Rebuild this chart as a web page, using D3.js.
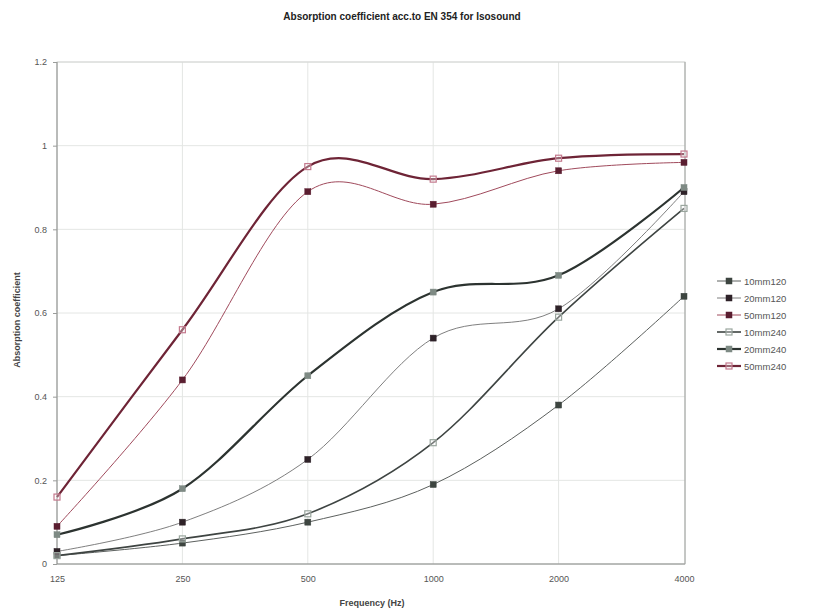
<!DOCTYPE html>
<html>
<head>
<meta charset="utf-8">
<script src="https://cdn.jsdelivr.net/npm/d3@7"></script>
<style>
  body { margin: 0; background: #fff; }
  text { font-family: "Liberation Sans", Arial, sans-serif; }
</style>
</head>
<body>
<div id="viz"></div>
<script>
// chart data
var frequencies = ['125', '250', '500', '1000', '2000', '4000'];
var yTicks = [0, 0.2, 0.4, 0.6, 0.8, 1, 1.2];
var seriesNames = ['10mm120', '20mm120', '50mm120', '10mm240', '20mm240', '50mm240'];
var v10mm120 = [0.02, 0.05, 0.10, 0.19, 0.38, 0.64];
var v20mm120 = [0.03, 0.10, 0.25, 0.54, 0.61, 0.89];
var v50mm120 = [0.09, 0.44, 0.89, 0.86, 0.94, 0.96];
var v10mm240 = [0.02, 0.06, 0.12, 0.29, 0.59, 0.85];
var v20mm240 = [0.07, 0.18, 0.45, 0.65, 0.69, 0.90];
var v50mm240 = [0.16, 0.56, 0.95, 0.92, 0.97, 0.98];

// styles per series
var styles = [
  {line: '#5c605e', width: 1,   mark: '#3d4540', open: false},
  {line: '#707070', width: 0.9, mark: '#2e2228', open: false},
  {line: '#a04a5c', width: 1,   mark: '#5a1e30', open: false},
  {line: '#3e4442', width: 1.6, mark: '#9aa69e', open: true},
  {line: '#2c3330', width: 2.2, mark: '#7e8a84', open: false},
  {line: '#6e2436', width: 2.2, mark: '#c47a8e', open: true}
];
var allValues = [v10mm120, v20mm120, v50mm120, v10mm240, v20mm240, v50mm240];

var chartW = 817, chartH = 612;
var plotL = 57, plotR = 685, plotT = 62, plotB = 564;
var ms = 6; // marker size

var svg = d3.select('#viz').append('svg')
  .attr('width', chartW)
  .attr('height', chartH);

var x = d3.scalePoint().domain(frequencies).range([plotL, plotR - 1]);
var y = d3.scaleLinear().domain([0, 1.2]).range([plotB, plotT]);

// faint gridlines
svg.append('g').selectAll('line')
  .data(yTicks.slice(1))
  .enter().append('line')
  .attr('x1', plotL).attr('x2', plotR)
  .attr('y1', function (d) { return y(d); })
  .attr('y2', function (d) { return y(d); })
  .attr('stroke', '#e4e6e4').attr('stroke-width', 1);

svg.append('g').selectAll('line')
  .data(frequencies.slice(1, -1))
  .enter().append('line')
  .attr('y1', plotT).attr('y2', plotB)
  .attr('x1', function (d) { return x(d); })
  .attr('x2', function (d) { return x(d); })
  .attr('stroke', '#e4e6e4').attr('stroke-width', 1);

// plot frame
svg.append('rect')
  .attr('x', plotL).attr('y', plotT)
  .attr('width', plotR - plotL).attr('height', plotB - plotT)
  .attr('fill', 'none').attr('stroke', '#d4d6d4');
svg.append('line').attr('x1', plotL).attr('x2', plotL).attr('y1', plotT).attr('y2', plotB)
  .attr('stroke', '#8a8c8a');
svg.append('line').attr('x1', plotL).attr('x2', plotR).attr('y1', plotB).attr('y2', plotB)
  .attr('stroke', '#8a8c8a');
svg.append('line').attr('x1', plotR).attr('x2', plotR).attr('y1', plotT).attr('y2', plotB)
  .attr('stroke', '#a0a2a0');

// axes
var yAxis = svg.append('g')
  .attr('transform', 'translate(' + plotL + ',0)')
  .call(d3.axisLeft(y).tickValues(yTicks).tickSize(4).tickPadding(6)
    .tickFormat(function (d) { return String(d); }));
yAxis.select('.domain').remove();
yAxis.selectAll('line').attr('stroke', '#9a9c9a');
yAxis.selectAll('text').attr('font-size', '9px').attr('fill', '#555');

var xAxis = svg.append('g')
  .attr('transform', 'translate(0,' + plotB + ')')
  .call(d3.axisBottom(x).tickSize(0).tickPadding(12));
xAxis.select('.domain').remove();
xAxis.selectAll('text').attr('font-size', '9px').attr('fill', '#555');

// series lines
var line = d3.line()
  .x(function (d, i) { return x(frequencies[i]); })
  .y(function (d) { return y(d); })
  .curve(d3.curveCardinal.tension(0));

allValues.forEach(function (vals, k) {
  var st = styles[k];
  svg.append('path')
    .datum(vals)
    .attr('d', line)
    .attr('fill', 'none')
    .attr('stroke', st.line)
    .attr('stroke-width', st.width);
});

allValues.forEach(function (vals, k) {
  var st = styles[k];
  svg.append('g').selectAll('rect')
    .data(vals)
    .enter().append('rect')
    .attr('x', function (d, i) { return x(frequencies[i]) - ms / 2; })
    .attr('y', function (d) { return y(d) - ms / 2; })
    .attr('width', ms).attr('height', ms)
    .attr('fill', st.open ? '#fff' : st.mark)
    .attr('fill-opacity', st.open ? 0.3 : 1)
    .attr('stroke', st.mark)
    .attr('stroke-width', st.open ? 1.2 : 0.5);
});

// legend
var legend = svg.append('g').attr('transform', 'translate(717,281)');
seriesNames.forEach(function (name, k) {
  var st = styles[k];
  var g = legend.append('g').attr('transform', 'translate(0,' + (k * 17) + ')');
  g.append('line').attr('x1', 0).attr('x2', 24)
    .attr('stroke', st.line).attr('stroke-width', st.width);
  g.append('rect').attr('x', 12 - ms / 2).attr('y', -ms / 2).attr('width', ms).attr('height', ms)
    .attr('fill', st.open ? '#fff' : st.mark)
    .attr('fill-opacity', st.open ? 0.3 : 1)
    .attr('stroke', st.mark).attr('stroke-width', st.open ? 1.2 : 0.5);
  g.append('text').attr('x', 27).attr('y', 3.5)
    .attr('font-size', '9.5px').attr('fill', '#555').text(name);
});

// titles
svg.append('text')
  .attr('x', 402).attr('y', 20)
  .attr('text-anchor', 'middle')
  .attr('font-size', '10px').attr('font-weight', 'bold').attr('fill', '#222')
  .text('Absorption coefficient acc.to EN 354 for Isosound');

svg.append('text')
  .attr('x', 372).attr('y', 606)
  .attr('text-anchor', 'middle')
  .attr('font-size', '9px').attr('font-weight', 'bold').attr('fill', '#444')
  .text('Frequency (Hz)');

svg.append('text')
  .attr('transform', 'translate(20,320) rotate(-90)')
  .attr('text-anchor', 'middle')
  .attr('font-size', '9px').attr('font-weight', 'bold').attr('fill', '#444')
  .text('Absorption coefficient');
</script>
</body>
</html>
